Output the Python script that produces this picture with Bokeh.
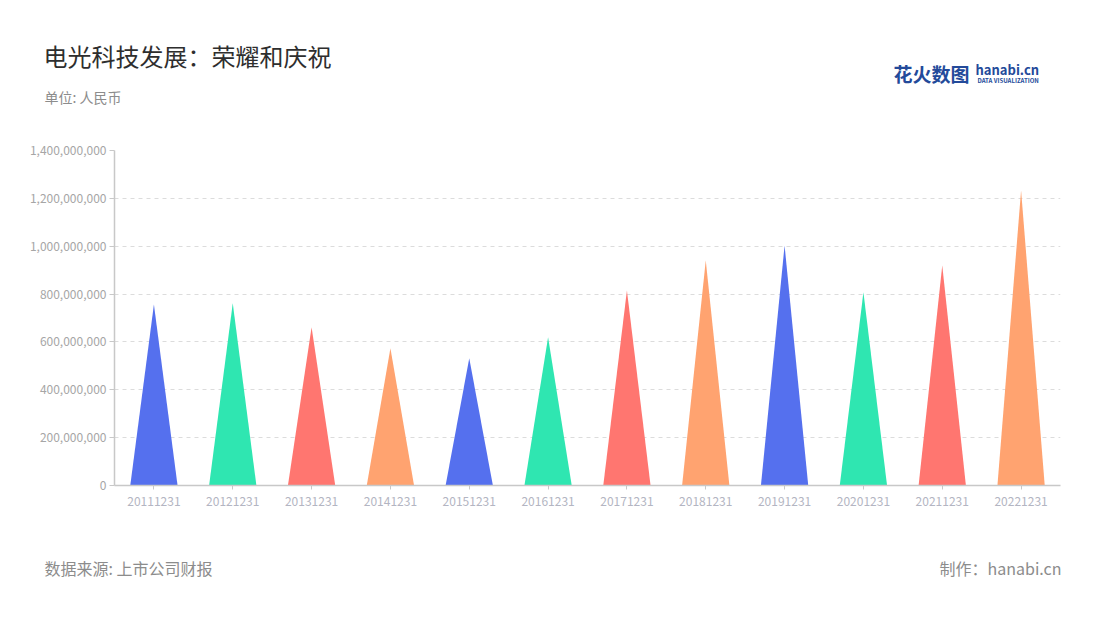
from bokeh.plotting import figure
from bokeh.layouts import column
from bokeh.models import Range1d, FixedTicker, NumeralTickFormatter, ColumnDataSource
from bokeh.core.properties import value
from bokeh.embed import file_html
from bokeh.resources import INLINE

categories = ["20111231", "20121231", "20131231", "20141231", "20151231", "20161231",
              "20171231", "20181231", "20191231", "20201231", "20211231", "20221231"]
values = [756e6, 762e6, 661e6, 574e6, 532e6, 620e6, 815e6, 940e6, 1003e6, 808e6, 919e6, 1233e6]
palette = ["#5570EE", "#2FE6B1", "#FF7670", "#FFA370"]
y_ticks = [0, 200e6, 400e6, 600e6, 800e6, 1000e6, 1200e6, 1400e6]
title_text = "电光科技发展：荣耀和庆祝"
unit_text = "单位: 人民币"
source_text = "数据来源: 上市公司财报"
credit_text = "制作：hanabi.cn"
logo_cn = "花火数图"
logo_en = "hanabi.cn"
logo_sub = "DATA VISUALIZATION"

FONT = "Noto Sans CJK SC"
W = 1100


def blank(height):
    f = figure(width=W, height=height, output_backend="svg", toolbar_location=None,
               x_range=Range1d(0, W), y_range=Range1d(height, 0),
               x_axis_type=None, y_axis_type=None,
               min_border=0, min_border_left=0, min_border_right=0,
               min_border_top=0, min_border_bottom=0)
    f.outline_line_color = None
    f.xgrid.visible = False
    f.ygrid.visible = False
    f.frame_align = False
    return f


def txt(f, x, y, s, size, color, align="left", style="normal"):
    f.text(x=[x], y=[y], text=[s], text_font=value(FONT), text_font_size=size,
           text_color=color, text_align=align, text_baseline="middle",
           text_font_style=style)


# header
top = blank(130)
txt(top, 43, 55, title_text, "24px", "#2e2e2e")
txt(top, 44, 96, unit_text, "14px", "#8c8c8c")
txt(top, 893, 73, logo_cn, "19px", "#234a9a", style="bold")
txt(top, 975, 69, logo_en, "13px", "#234a9a", style="bold")
txt(top, 977, 80, logo_sub, "6px", "#234a9a", style="bold")

# main chart
p = figure(width=W, height=420, output_backend="svg", toolbar_location=None,
           x_range=Range1d(0, len(categories)), y_range=Range1d(0, 1.4e9),
           min_border_left=114, min_border_right=40, min_border_top=20, min_border_bottom=65)
p.outline_line_color = None
p.frame_align = False

half = 0.3
xs, ys, cols = [], [], []
for i, v in enumerate(values):
    c = i + 0.5
    xs.append([c - half, c, c + half])
    ys.append([0, v, 0])
    cols.append(palette[i % len(palette)])
src = ColumnDataSource(dict(xs=xs, ys=ys, color=cols))
p.patches("xs", "ys", source=src, fill_color="color", line_color=None)

p.xaxis.ticker = FixedTicker(ticks=[i + 0.5 for i in range(len(categories))])
p.xaxis.major_label_overrides = {i + 0.5: c for i, c in enumerate(categories)}
p.xaxis.minor_tick_line_color = None
p.xaxis.axis_line_color = "#c8c8c8"
p.xaxis.axis_line_width = 1.5
p.xaxis.major_tick_line_color = "#c8c8c8"
p.xaxis.major_tick_out = 4
p.xaxis.major_tick_in = 0
p.xaxis.major_label_text_color = "#b3b5c2"
p.xaxis.major_label_text_font = FONT
p.xaxis.major_label_text_font_size = "12px"
p.xaxis.major_label_standoff = 7

p.yaxis.ticker = FixedTicker(ticks=y_ticks)
p.yaxis.formatter = NumeralTickFormatter(format="0,0")
p.yaxis.minor_tick_line_color = None
p.yaxis.axis_line_color = "#c8c8c8"
p.yaxis.axis_line_width = 1.5
p.yaxis.major_tick_line_color = "#c8c8c8"
p.yaxis.major_tick_out = 5
p.yaxis.major_tick_in = 0
p.yaxis.major_label_text_color = "#a6a6a6"
p.yaxis.major_label_text_font = FONT
p.yaxis.major_label_text_font_size = "12px"
p.yaxis.major_label_standoff = 3

p.xgrid.visible = False
p.ygrid.grid_line_color = "#dcdcdc"
p.ygrid.grid_line_dash = "4 4"
p.ygrid.grid_line_width = 1

# footer
bot = blank(70)
txt(bot, 44, 17, source_text, "16px", "#8c8c8c")
txt(bot, 1061, 17, credit_text, "16px", "#8c8c8c", align="right")

layout = column(top, p, bot, spacing=0)
open("out.html", "w").write(file_html(layout, INLINE))
